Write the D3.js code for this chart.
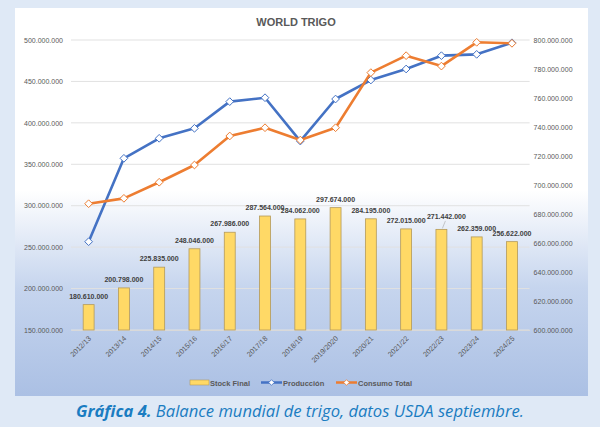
<!DOCTYPE html>
<html><head><meta charset="utf-8">
<script src="https://cdn.jsdelivr.net/npm/d3@7"></script>
<style>body{margin:0;background:#dfe9f6;}svg{display:block;}</style>
</head><body>
<script>
const categories = ["2012/13","2013/14","2014/15","2015/16","2016/17","2017/18","2018/19","2019/2020","2020/21","2021/22","2022/23","2023/24","2024/25"];
const stockFinal = [180610000,200798000,225835000,248046000,267986000,287564000,284062000,297674000,284195000,272015000,271442000,262359000,256622000];
const produccion = [660900000,718400000,732200000,739100000,757500000,760200000,730300000,759300000,772400000,780000000,789200000,790100000,798100000];
const consumo = [687100000,690800000,701900000,713800000,733800000,739500000,731000000,739500000,777500000,789200000,782000000,798400000,797700000];
const leftTicks = [150000000,200000000,250000000,300000000,350000000,400000000,450000000,500000000];
const rightTicks = [600000000,620000000,640000000,660000000,680000000,700000000,720000000,740000000,760000000,780000000,800000000];

const W=600,H=427;
const svg=d3.select("body").append("svg").attr("width",W).attr("height",H);
const defs=svg.append("defs");
const grad=defs.append("linearGradient").attr("id","bg").attr("x1",0).attr("y1",0).attr("x2",0).attr("y2",1);
grad.append("stop").attr("offset","0").attr("stop-color","#ffffff");
grad.append("stop").attr("offset","0.47").attr("stop-color","#ffffff");
grad.append("stop").attr("offset","0.72").attr("stop-color","#c6d5ee");
grad.append("stop").attr("offset","1").attr("stop-color","#abc0e4");
svg.append("rect").attr("x",15).attr("y",8).attr("width",573).attr("height",388).attr("fill","url(#bg)");

const fmt=v=>d3.format(",")(v).replace(/,/g,".");
const x=d3.scaleBand().domain(categories).range([71,529.6]).paddingInner(0.69).paddingOuter(0.345);
const yL=d3.scaleLinear().domain([150000000,500000000]).range([330,40]);
const yR=d3.scaleLinear().domain([600000000,800000000]).range([330,40]);

// gridlines
svg.append("g").selectAll("line").data(leftTicks).join("line")
 .attr("x1",71).attr("x2",529.6).attr("y1",d=>yL(d)).attr("y2",d=>yL(d))
 .attr("stroke","#e1e1e1").attr("stroke-width",1);

// axes
const axL=svg.append("g").attr("transform","translate(71,0)")
 .call(d3.axisLeft(yL).tickValues(leftTicks).tickFormat(fmt).tickSize(0).tickPadding(8));
const axR=svg.append("g").attr("transform","translate(529.6,0)")
 .call(d3.axisRight(yR).tickValues(rightTicks).tickFormat(fmt).tickSize(0).tickPadding(4));
[axL,axR].forEach(a=>{a.select(".domain").remove();a.selectAll("text").attr("font-family","Liberation Sans, Arial").attr("font-size",7).attr("fill","#595959");});

const axX=svg.append("g").attr("transform","translate(0,330)")
 .call(d3.axisBottom(x).tickSize(0).tickPadding(0));
axX.select(".domain").attr("stroke","#d9d9d9");
axX.selectAll("text").attr("font-family","Liberation Sans, Arial").attr("font-size",7.2).attr("fill","#595959")
 .attr("text-anchor","end").attr("dy",0).attr("transform","translate(3,9) rotate(-45)");

// bars
svg.append("g").selectAll("rect").data(stockFinal).join("rect")
 .attr("x",(d,i)=>x(categories[i])).attr("width",x.bandwidth())
 .attr("y",d=>yL(d)).attr("height",d=>330-yL(d))
 .attr("fill","#ffd966").attr("stroke","#b49a5a").attr("stroke-width",0.8);
// data labels (the 2022/23 label is nudged with a leader line, as in the original)
const nudgeIdx=10, nudge=[5,-4];
svg.append("g").selectAll("text").data(stockFinal).join("text")
 .attr("x",(d,i)=>x(categories[i])+x.bandwidth()/2+(i===nudgeIdx?nudge[0]:0))
 .attr("y",(d,i)=>yL(d)-6+(i===nudgeIdx?nudge[1]:0))
 .attr("text-anchor","middle").attr("font-family","Liberation Sans, Arial").attr("font-size",7)
 .attr("font-weight","bold").attr("fill","#404040").text(fmt);
{
 const bx=x(categories[nudgeIdx])+x.bandwidth()/2, by=yL(stockFinal[nudgeIdx]);
 svg.append("line").attr("x1",bx+1).attr("y1",by-1).attr("x2",bx+4).attr("y2",by-8.5)
  .attr("stroke","#a6a6a6").attr("stroke-width",0.6);
}

// lines
const cx=i=>x(categories[i])+x.bandwidth()/2;
const diamond=d3.symbol().type(d3.symbolDiamond2).size(38);
function series(vals,color){
 const line=d3.line().x((d,i)=>cx(i)).y(d=>yR(d));
 svg.append("path").datum(vals).attr("d",line).attr("fill","none").attr("stroke",color).attr("stroke-width",2.6).attr("stroke-linejoin","round");
 svg.append("g").selectAll("path").data(vals).join("path")
  .attr("d",diamond).attr("transform",(d,i)=>`translate(${cx(i)},${yR(d)})`)
  .attr("fill","#ffffff").attr("stroke",color).attr("stroke-width",1);
}
series(produccion,"#4472c4");
series(consumo,"#ed7d31");

// title
svg.append("text").attr("x",296).attr("y",26).attr("text-anchor","middle")
 .attr("font-family","Liberation Sans, Arial").attr("font-size",11).attr("font-weight","bold").attr("fill","#595959").text("WORLD TRIGO");

// legend
const lg=svg.append("g").attr("font-family","Liberation Sans, Arial").attr("font-size",7.5).attr("font-weight","bold").attr("fill","#595959");
lg.append("rect").attr("x",190).attr("y",380).attr("width",19).attr("height",5).attr("fill","#ffd966").attr("stroke","#b49a5a").attr("stroke-width",0.6);
lg.append("text").attr("x",210).attr("y",385.5).text("Stock Final");
[["Producción",261,"#4472c4"],["Consumo Total",336,"#ed7d31"]].forEach(([t,lx,c])=>{
 lg.append("line").attr("x1",lx).attr("x2",lx+21).attr("y1",382.5).attr("y2",382.5).attr("stroke",c).attr("stroke-width",2.5);
 lg.append("path").attr("d",d3.symbol().type(d3.symbolDiamond2).size(20)).attr("transform",`translate(${lx+10.5},382.5)`).attr("fill","#fff").attr("stroke",c).attr("stroke-width",0.8);
 lg.append("text").attr("x",lx+22).attr("y",385.5).text(t);
});

// caption
const cap=svg.append("text").attr("x",300).attr("y",417).attr("text-anchor","middle")
 .attr("font-family","Open Sans, Liberation Sans").attr("font-size",16.6).attr("font-style","italic").attr("fill","#1a7cc1");
cap.append("tspan").attr("font-weight","bold").text("Gráfica 4.");
cap.append("tspan").text(" Balance mundial de trigo, datos USDA septiembre.");
</script>
</body></html>
